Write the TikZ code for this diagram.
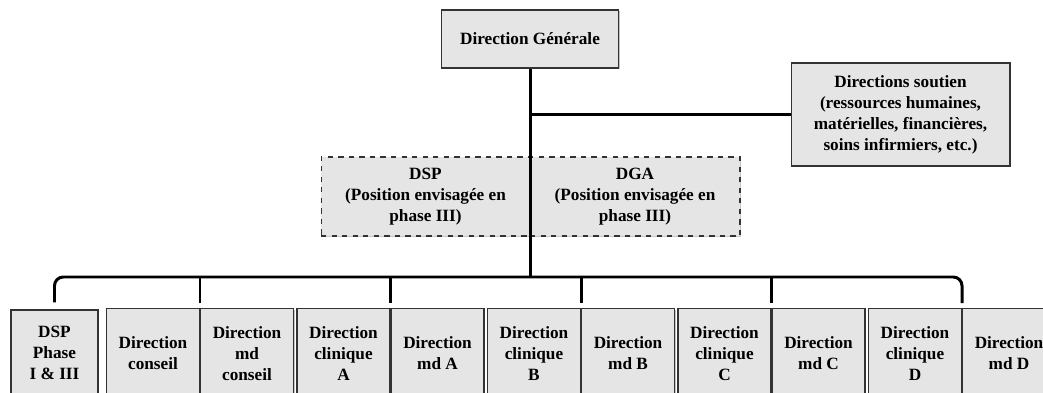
\documentclass[tikz,border=0pt]{standalone}
\usepackage{fontspec}
\setmainfont{Liberation Serif}
\usetikzlibrary{shadows,calc}

\tikzset{
  unitbox/.style={draw=black!80, line width=0.6pt, fill=black!10, align=center, inner sep=1pt,
    font=\bfseries\fontsize{9.8}{11.9}\selectfont,
    drop shadow={shadow xshift=0.8pt, shadow yshift=-0.8pt, fill=black!45}},
  planbox/.style={unitbox, dashed},
  link/.style={line width=1.7pt, black}
}

\begin{document}
\begin{tikzpicture}[x=0.02cm, y=-0.02cm]
    \useasboundingbox (0,0) rectangle (1043,392);
    \clip (0,0) rectangle (1043,392);

    % top of the chart
    \node[unitbox, minimum width=3.54cm, minimum height=1.16cm] (dg) at (530,39) {Direction Générale};
    \node[unitbox, minimum width=4.38cm, minimum height=2.06cm] (sout) at (900.5,114.5)
      {Directions soutien\\(ressources humaines,\\matérielles, financières,\\soins infirmiers, etc.)};
    \node[planbox, minimum width=4.18cm, minimum height=1.58cm] (dsp) at (425.5,196.5)
      {DSP\\(Position envisagée en\\phase III)};
    \node[planbox, minimum width=4.2cm, minimum height=1.58cm] (dga) at (635,196.5)
      {DGA\\(Position envisagée en\\phase III)};

    % bottom row
    \node[unitbox, minimum width=1.74cm, minimum height=1.72cm] (dspp) at (54.5,353) {DSP\\Phase\\I \& III};
    \foreach \i/\n/\ta/\tb in {0/c/{Direction\\conseil}/{Direction\\md\\conseil},
                               1/a/{Direction\\clinique\\A}/{Direction\\md A},
                               2/b/{Direction\\clinique\\B}/{Direction\\md B},
                               3/cc/{Direction\\clinique\\C}/{Direction\\md C},
                               4/d/{Direction\\clinique\\D}/{Direction\\md D}} {
      \pgfmathsetmacro{\x}{200+190.5*\i}
      \node[unitbox, minimum width=1.86cm, minimum height=1.8cm, anchor=north east] (l\n) at (\x,308) {\ta};
      \node[unitbox, minimum width=1.86cm, minimum height=1.8cm, anchor=north west] (r\n) at (\x,308) {\tb};
      \coordinate (t\n) at ($(l\n.north east)+(0,-5)$);
    }

    % connectors
    \coordinate (bus) at (530,277);
    \coordinate (bl) at ($(dspp.north)+(0,-7)$);
    \draw[link] (dg.south) -- (bus);
    \draw[link] (dg.south |- sout.west) -- (sout.west);
    \draw[link, rounded corners=5pt] (bl) |- (bus) -| (td);
    \foreach \n in {c,a,b,cc}
      \draw[link] (t\n) -- (t\n |- bus);
\end{tikzpicture}
\end{document}
